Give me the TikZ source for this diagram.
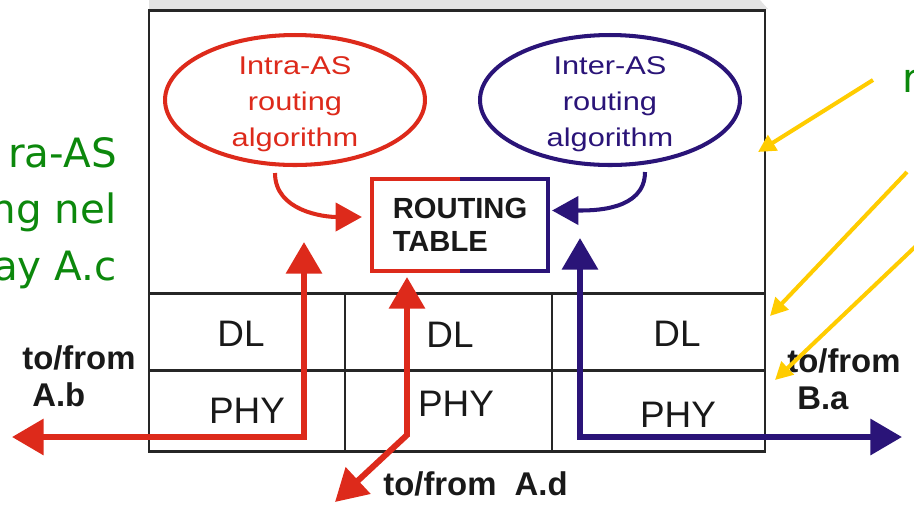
\documentclass[tikz,border=0pt]{standalone}
\usepackage{fontspec}
\setmainfont{Liberation Sans}
\newfontfamily\ellfont[FakeStretch=1.2]{Liberation Sans}
\newfontfamily\notefont{DejaVu Sans}
\usetikzlibrary{arrows.meta,shapes.geometric}

\definecolor{intrared}{RGB}{221,42,27}
\definecolor{interblue}{RGB}{42,20,120}
\definecolor{notegreen}{RGB}{12,136,12}
\definecolor{hintyellow}{RGB}{255,204,0}

\tikzset{
  bigtip/.tip={Triangle[length=18pt,width=20pt]},
  smalltip/.tip={Triangle[length=15pt,width=16pt]},
  hinttip/.tip={Triangle[length=10pt,width=10pt]},
  frame/.style={line width=1.7pt, black!85},
  algo/.style={draw, ellipse, line width=2.3pt, minimum width=5.2cm, minimum height=2.6cm, inner sep=0},
  algotext/.style={font=\ellfont\fontsize{14.6pt}{20.4pt}\selectfont, align=center, inner sep=0},
  tablebox/.style={minimum width=3.51cm, minimum height=1.84cm, inner sep=0, align=left,
    font=\bfseries\fontsize{16.6pt}{18.7pt}\selectfont, text=black!90},
  layer/.style={font=\fontsize{21pt}{24pt}\selectfont, inner sep=0, text=black!90},
  flow/.style={line width=3.4pt, {bigtip}-{bigtip}},
  feed/.style={line width=2.3pt, -{smalltip}},
  hint/.style={line width=2.3pt, hintyellow, -{hinttip}},
  lbl/.style={font=\bfseries\fontsize{18.7pt}{21.5pt}\selectfont, inner sep=0, align=left, text=black!90},
  note/.style={font=\notefont\fontsize{23pt}{30pt}\selectfont, text=notegreen, inner sep=0}
}

\begin{document}
\begin{tikzpicture}[x=0.02cm, y=-0.02cm]
  \useasboundingbox (0,0) rectangle (914,505);

  % router box
  \fill[gray!22] (149,0) -- (760,0) -- (768,9) -- (149,9) -- cycle;
  \draw[frame] (149,10) rectangle (765,451);
  \draw[frame] (149,293) -- (765,293) (149,370) -- (765,370);
  \foreach \x in {345,552}{
    \draw[frame] (\x,293) -- (\x,451);
  }

  \foreach \n/\x/\y in {1/241/334, 2/450/335, 3/677/334}{
    \node[layer] (dl\n) at (\x,\y) {DL};
  }
  \foreach \n/\x/\y in {1/247/411, 2/456/404, 3/678/415}{
    \node[layer] (phy\n) at (\x,\y) {PHY};
  }

  % routing algorithms
  \node[algo, draw=intrared] (intra) at (295,100) {};
  \node[algotext, text=intrared] (intratxt) at (295,104.5) {Intra-AS\\routing\\algorithm};
  \node[algo, draw=interblue] (inter) at (610,100) {};
  \node[algotext, text=interblue] (intertxt) at (610,104.5) {Inter-AS\\routing\\algorithm};

  \node[tablebox] (table) at (460,225) {ROUTING\\TABLE};
  \draw[intrared, line width=2.3pt] (table.north) -| (table.west) |- (table.south);
  \draw[interblue, line width=2.3pt] (table.north) -| (table.east) |- (table.south);

  \draw[feed, intrared] ([shift={(-20,6)}]intra.south) to[out=-90,in=180] ([shift={(-10,-8)}]table.west);
  \draw[feed, interblue] ([shift={(35,5)}]inter.south) to[out=-90,in=0] ([shift={(4,-14.5)}]table.east);

  % forwarding paths
  \coordinate (Ab) at (12,437);
  \coordinate (abup) at (304,242);
  \coordinate (Ad) at (335,502);
  \coordinate (adup) at (407,277);
  \coordinate (Ba) at (902,437);
  \coordinate (baup) at (580,238);

  \draw[flow, intrared] (Ab) -| (abup);
  \draw[flow, intrared] (adup) -- ++(0,158) -- (Ad);
  \draw[flow, interblue] (baup) |- (Ba);

  \node[lbl, anchor=north west] (lblAb) at (22,345) {to/from\\\hspace*{5.7pt}A.b};
  \node[lbl, anchor=north west] (lblBa) at (787,348) {to/from\\\hspace*{5.7pt}B.a};
  \node[lbl, anchor=base west] (lblAd) at (383,495) {to/from\ \ A.d};

  % side notes
  \node[note, anchor=base east] (note1) at (117,167) {ra-AS};
  \node[note, anchor=base east] (note2) at (117,223.5) {ng nel};
  \node[note, anchor=base east] (note3) at (117,280) {ay A.c};
  \node[note, anchor=base west] (note4) at (902,92) {r};

  \coordinate (h1s) at (873,80);
  \coordinate (h1e) at (758,152);
  \coordinate (h2s) at (907,172);
  \coordinate (h2e) at (770,316);
  \coordinate (h3s) at (916,246);
  \coordinate (h3e) at (775,380);
  \foreach \h in {1,2,3}{
    \draw[hint] (h\h s) -- (h\h e);
  }
\end{tikzpicture}
\end{document}
